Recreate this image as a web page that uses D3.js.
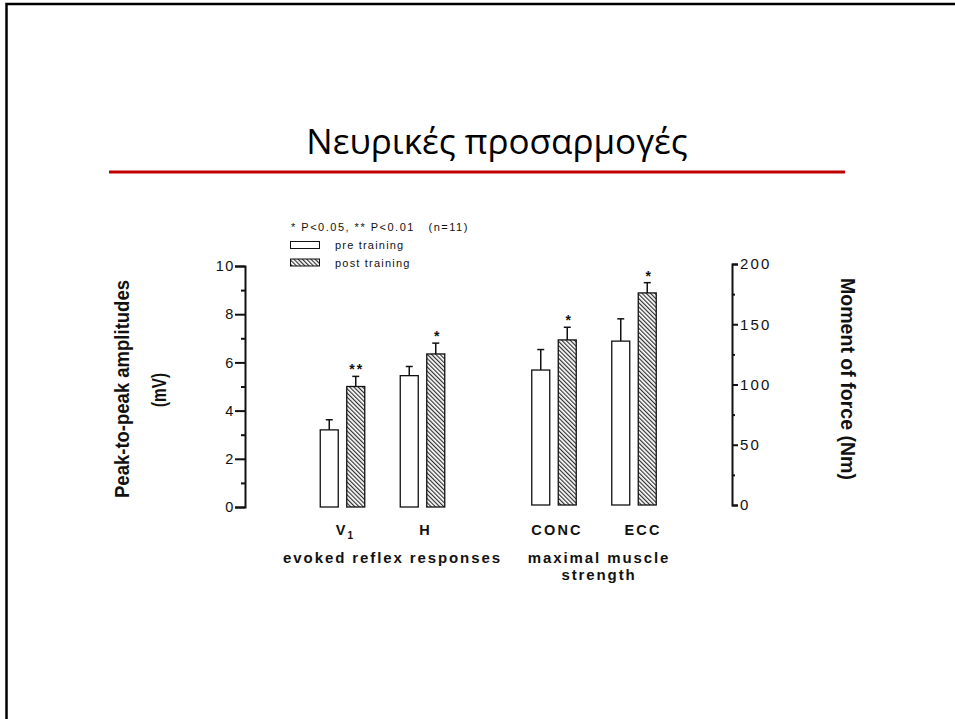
<!DOCTYPE html>
<html>
<head>
<meta charset="utf-8">
<script src="https://cdn.jsdelivr.net/npm/d3@7"></script>
<style>
  body { margin: 0; background: #fff; }
  svg { display: block; }
</style>
</head>
<body>
<svg id="chart" width="955" height="719"></svg>
<script>
// ---- data ----
const slideTitle = "Νευρικές προσαρμογές";
const groups = ["evoked reflex responses", "maximal muscle strength"];
const groupLines = [["evoked reflex responses"], ["maximal muscle", "strength"]];
const categories = ["V1", "H", "CONC", "ECC"];
const categoryMain = ["V", "H", "CONC", "ECC"];
const categorySub = ["1", "", "", ""];
const categoryGroup = [0, 0, 1, 1];
const categoryAxis = ["left", "left", "right", "right"];
const series = ["pre training", "post training"];
const preValues = [3.2, 5.45, 112, 136];
const postValues = [5.0, 6.35, 137, 176];
const preErr = [0.42, 0.38, 17, 18.5];
const postErr = [0.42, 0.45, 10.5, 8.5];
const significance = ["**", "*", "*", "*"];
const leftMajorTicks = [0, 2, 4, 6, 8, 10];
const leftMinorTicks = [1, 3, 5, 7, 9];
const rightMajorTicks = [0, 50, 100, 150, 200];
const rightMinorTicks = [25, 75, 125, 175];
const leftAxisTitle = ["Peak-to-peak amplitudes", "(mV)"];
const rightAxisTitle = "Moment of force  (Nm)";
const legendNote = "* P<0.05, ** P<0.01   (n=11)";

// ---- setup ----
const svg = d3.select("#chart");
const sans = "'Liberation Sans', Arial, Helvetica, sans-serif";
const ink = "#111";

// slide frame (top and left edges visible)
svg.append("rect")
  .attr("x", 6.5).attr("y", 4)
  .attr("width", 1000).attr("height", 800)
  .attr("fill", "none").attr("stroke", "#000").attr("stroke-width", 2.5);

// slide title and red rule
svg.append("text")
  .attr("x", 497).attr("y", 154)
  .attr("text-anchor", "middle")
  .attr("font-family", "'Open Sans', 'Noto Sans', sans-serif")
  .attr("font-size", 35)
  .attr("fill", "#000")
  .text(slideTitle);

svg.append("line")
  .attr("x1", 109).attr("x2", 845)
  .attr("y1", 172).attr("y2", 172)
  .attr("stroke", "#c00000").attr("stroke-width", 3);

// hatch fill for post-training bars
const defs = svg.append("defs");
defs.append("pattern")
  .attr("id", "hatch")
  .attr("patternUnits", "userSpaceOnUse")
  .attr("width", 3).attr("height", 3)
  .attr("patternTransform", "rotate(-45)")
  .call(p => {
    p.append("rect").attr("width", 3).attr("height", 3).attr("fill", "#fff");
    p.append("line").attr("x1", 0.6).attr("x2", 0.6).attr("y1", 0).attr("y2", 3)
      .attr("stroke", "#2a2a2a").attr("stroke-width", 1.15);
  });

// ---- scales ----
const leftY = d3.scaleLinear().domain([0, 10]).range([507, 266]);
const rightY = d3.scaleLinear().domain([0, 200]).range([505, 264]);

const outerX = d3.scaleBand().domain(groups).range([302.5, 674])
  .paddingInner(0.2435).paddingOuter(0);
const innerX = d3.scaleBand().domain([0, 1]).range([0, outerX.bandwidth()]).padding(0);
const barX = d3.scaleBand().domain(series).range([0, innerX.bandwidth()])
  .paddingInner(0.321).paddingOuter(0.67);

const catIndexInGroup = categories.map((c, i) =>
  categories.filter((_, j) => j < i && categoryGroup[j] === categoryGroup[i]).length);
const catX = i => outerX(groups[categoryGroup[i]]) + innerX(catIndexInGroup[i]);
const yFor = i => categoryAxis[i] === "left" ? leftY : rightY;

// ---- axes ----
function styleAxis(g, size, spacing) {
  g.selectAll("path.domain").attr("stroke", ink).attr("stroke-width", 2);
  g.selectAll(".tick line").attr("stroke", ink).attr("stroke-width", 2);
  g.selectAll(".tick text")
    .attr("font-family", sans).attr("font-size", size)
    .attr("letter-spacing", spacing).attr("fill", ink);
}

const leftX = 245;
svg.append("g").attr("transform", `translate(${leftX},0)`)
  .call(d3.axisLeft(leftY).tickValues(leftMinorTicks).tickSize(4).tickSizeOuter(0).tickFormat(""))
  .call(g => g.select("path.domain").remove())
  .call(g => styleAxis(g, 14, "1.5px"));
svg.append("g").attr("transform", `translate(${leftX},0)`)
  .call(d3.axisLeft(leftY).tickValues(leftMajorTicks).tickSize(10).tickSizeOuter(10).tickPadding(0))
  .call(g => styleAxis(g, 14.5, "1.6px"));

const rightX = 732;
svg.append("g").attr("transform", `translate(${rightX},0)`)
  .call(d3.axisRight(rightY).tickValues(rightMinorTicks).tickSize(3).tickSizeOuter(0).tickFormat(""))
  .call(g => g.select("path.domain").remove())
  .call(g => styleAxis(g, 14, "1.5px"));
svg.append("g").attr("transform", `translate(${rightX},0)`)
  .call(d3.axisRight(rightY).tickValues(rightMajorTicks).tickSize(6).tickSizeOuter(6).tickPadding(2))
  .call(g => styleAxis(g, 15, "2.2px"));

// axis titles
svg.append("text")
  .attr("transform", "translate(129,389) rotate(-90)")
  .attr("text-anchor", "middle")
  .attr("font-family", sans).attr("font-weight", "bold").attr("font-size", 20)
  .attr("textLength", 218).attr("lengthAdjust", "spacingAndGlyphs")
  .attr("fill", ink)
  .text(leftAxisTitle[0]);
svg.append("text")
  .attr("transform", "translate(166,390) rotate(-90)")
  .attr("text-anchor", "middle")
  .attr("font-family", sans).attr("font-weight", "bold").attr("font-size", 20)
  .attr("textLength", 34).attr("lengthAdjust", "spacingAndGlyphs")
  .attr("fill", ink)
  .text(leftAxisTitle[1]);
svg.append("text")
  .attr("transform", "translate(841,379) rotate(90)")
  .attr("text-anchor", "middle")
  .attr("font-family", sans).attr("font-weight", "bold").attr("font-size", 20)
  .attr("textLength", 202).attr("lengthAdjust", "spacingAndGlyphs")
  .attr("fill", ink)
  .text(rightAxisTitle);

// ---- bars ----
const barData = [];
categories.forEach((c, i) => {
  series.forEach((s, k) => {
    barData.push({
      i, series: s,
      value: k === 0 ? preValues[i] : postValues[i],
      err: k === 0 ? preErr[i] : postErr[i]
    });
  });
});

const barsG = svg.append("g");
barsG.selectAll("rect.bar").data(barData).join("rect")
  .attr("class", "bar")
  .attr("x", d => catX(d.i) + barX(d.series))
  .attr("width", barX.bandwidth())
  .attr("y", d => yFor(d.i)(d.value))
  .attr("height", d => yFor(d.i)(0) - yFor(d.i)(d.value))
  .attr("fill", d => d.series === series[0] ? "#fff" : "url(#hatch)")
  .attr("stroke", ink).attr("stroke-width", 1.3);

// error bars (upper whisker only)
const errG = barsG.selectAll("g.err").data(barData).join("g").attr("class", "err")
  .attr("transform", d => `translate(${catX(d.i) + barX(d.series) + barX.bandwidth() / 2},0)`);
errG.append("line")
  .attr("x1", 0).attr("x2", 0)
  .attr("y1", d => yFor(d.i)(d.value))
  .attr("y2", d => yFor(d.i)(d.value + d.err))
  .attr("stroke", ink).attr("stroke-width", 1.5);
errG.append("line")
  .attr("x1", -3.5).attr("x2", 3.5)
  .attr("y1", d => yFor(d.i)(d.value + d.err))
  .attr("y2", d => yFor(d.i)(d.value + d.err))
  .attr("stroke", ink).attr("stroke-width", 1.5);

// significance markers above post-training bars
svg.selectAll("text.sig").data(categories).join("text")
  .attr("class", "sig")
  .attr("x", (c, i) => catX(i) + barX(series[1]) + barX.bandwidth() / 2 + 1)
  .attr("y", (c, i) => yFor(i)(postValues[i] + postErr[i]) - 2)
  .attr("text-anchor", "middle")
  .attr("font-family", sans).attr("font-weight", "bold").attr("font-size", 14)
  .attr("letter-spacing", (c, i) => significance[i].length > 1 ? "2px" : "0px")
  .attr("fill", ink)
  .text((c, i) => significance[i]);

// ---- category and group labels ----
const catLabels = svg.selectAll("text.cat").data(categories).join("text")
  .attr("class", "cat")
  .attr("x", (c, i) => catX(i) + innerX.bandwidth() / 2 + (i === 3 ? 9 : 3))
  .attr("y", 535)
  .attr("text-anchor", "middle")
  .attr("font-family", sans).attr("font-weight", "bold").attr("font-size", 14.5)
  .attr("letter-spacing", "2.2px")
  .attr("fill", ink);
catLabels.append("tspan").text((c, i) => categoryMain[i]);
catLabels.append("tspan")
  .attr("font-size", 10).attr("dy", 4)
  .text((c, i) => categorySub[i]);

const groupLabelShift = [10, 5];
groups.forEach((g, gi) => {
  const cx = outerX(g) + outerX.bandwidth() / 2 + groupLabelShift[gi];
  groupLines[gi].forEach((line, li) => {
    svg.append("text")
      .attr("x", cx).attr("y", 563 + li * 17)
      .attr("text-anchor", "middle")
      .attr("font-family", sans).attr("font-weight", "bold").attr("font-size", 15)
      .attr("letter-spacing", "1.9px")
      .attr("fill", ink)
      .text(line);
  });
});

// ---- legend ----
const legend = svg.append("g");
legend.append("text")
  .attr("x", 291).attr("y", 231)
  .attr("font-family", sans).attr("font-size", 11)
  .attr("letter-spacing", "1.5px")
  .style("white-space", "pre")
  .attr("fill", ink)
  .text(legendNote);
series.forEach((s, k) => {
  legend.append("rect")
    .attr("x", 290.5).attr("y", 241.5 + k * 17.5)
    .attr("width", 29).attr("height", 7)
    .attr("fill", k === 0 ? "#fff" : "url(#hatch)")
    .attr("stroke", ink).attr("stroke-width", 1);
  legend.append("text")
    .attr("x", 335).attr("y", 249 + k * 17.5)
    .attr("font-family", sans).attr("font-size", 11)
    .attr("letter-spacing", "1.2px")
    .attr("fill", ink)
    .text(s);
});
</script>
</body>
</html>
